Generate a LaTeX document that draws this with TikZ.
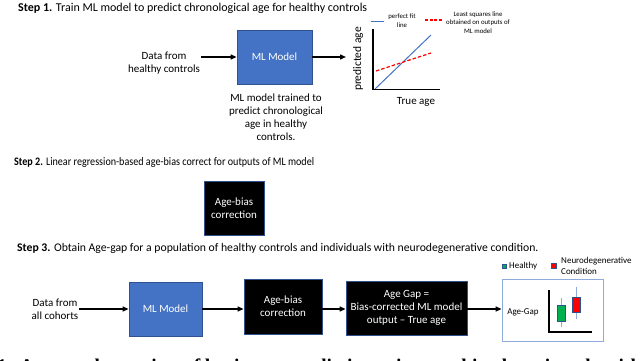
\documentclass[tikz,border=0pt]{standalone}
\usepackage{fontspec}
\setmainfont{Carlito}
\newfontfamily\capfont{Liberation Serif}
\usetikzlibrary{arrows.meta}
\definecolor{mlblue}{HTML}{4472C4}
\definecolor{mlborder}{HTML}{2F528F}
\definecolor{lightb}{HTML}{8FAADC}
\definecolor{hgreen}{HTML}{00B050}
\definecolor{nred}{HTML}{FF0000}
\begin{document}
\begin{tikzpicture}[x=1pt,y=-1pt,
  arr/.style={-{Triangle[length=6pt,width=5pt]}, line width=1.4pt},
  txt/.style={font=\fontsize{11}{13}\selectfont, align=center, inner sep=1pt},
  steptxt/.style={anchor=west, inner sep=0pt},
  mlbox/.style={draw=mlborder, fill=mlblue, line width=0.8pt, text=white, font=\fontsize{11}{13}\selectfont, inner sep=0pt, align=center},
  blkbox/.style={draw=mlborder, fill=black, line width=0.8pt, text=white, font=\fontsize{11}{13}\selectfont, inner sep=0pt, align=center},
  smalltxt/.style={font=\fontsize{6.8}{8.5}\selectfont, align=center, inner sep=0pt},
  whisk/.style={draw=lightb, line width=0.9pt},
  candle/.style={draw=mlborder, line width=0.6pt}]
\useasboundingbox (0,0) rectangle (640,361);
\clip (0,0) rectangle (640,361);

% ---------- Step 1 ----------
\node[steptxt, font=\fontsize{12}{14}\selectfont] (s1) at (18,8) {\textbf{Step 1.} Train ML model to predict chronological age for healthy controls};
\node[txt] (d1) at (164,63.5) {Data from\\healthy controls};
\node[mlbox, minimum width=75pt, minimum height=54pt] (ml1) at (274.5,57) {ML Model};
\node[txt] (c1) at (276,117.5) {ML model trained to\\predict chronological\\age in healthy\\controls.};
\coordinate (plotin) at (346,57);
\draw[arr] (d1.east |- ml1) -- (ml1.west);
\draw[arr] (ml1.east) -- (plotin);

% plot
\draw[mlblue, line width=1pt] (375,89) -- (431,35);
\draw[nred, line width=1.2pt, dash pattern=on 3.5pt off 2pt] (376,71) -- (431,53);
\draw[line width=1.7pt] (373,29) -- (373,89.5) -- (440,89.5);
\node[rotate=90, font=\fontsize{11.5}{13}\selectfont, inner sep=0pt] (ylab) at (358,59) {predicted age};
\node[font=\fontsize{11}{13}\selectfont, inner sep=0pt] (xlab) at (416,102) {True age};
\draw[mlblue, line width=1pt] (371,22) -- (384,22);
\node[smalltxt] (lg1) at (402,20.5) {perfect fit\\line};
\draw[nred, line width=1.2pt, dash pattern=on 3pt off 1.5pt] (425,20) -- (442,20);
\node[smalltxt] (lg2) at (478,22.5) {Least squares line\\obtained on outputs of\\ML model};

% ---------- Step 2 ----------
\node[steptxt, font=\fontsize{11.5}{14}\selectfont, xscale=0.88, anchor=west] (s2) at (14,162) {\textbf{Step 2.} Linear regression-based age-bias correct for outputs of ML model};
\node[blkbox, minimum width=60pt, minimum height=54pt] (ab1) at (234,208) {Age-bias\\correction};

% ---------- Step 3 ----------
\node[steptxt, font=\fontsize{11.7}{14}\selectfont] (s3) at (17,248) {\textbf{Step 3.} Obtain Age-gap for a population of healthy controls and individuals with neurodegenerative condition.};
\node[txt] (d3) at (55,309) {Data from\\all cohorts};
\node[mlbox, minimum width=73pt, minimum height=54pt] (ml3) at (165.5,309) {ML Model};
\node[blkbox, minimum width=78pt, minimum height=55pt] (ab3) at (283,306.5) {Age-bias\\correction};
\node[blkbox, minimum width=121pt, minimum height=54pt] (ag3) at (406.5,308) {Age Gap =\\Bias-corrected ML model\\output -- True age};
\node[draw=lightb, line width=0.8pt, fill=white, minimum width=101pt, minimum height=62pt, inner sep=0pt] (out) at (552.5,310) {};
\draw[arr] (d3.east |- ml3) -- (ml3.west);
\draw[arr] (ml3.east) -- (ab3.west |- ml3);
\draw[arr] (ab3.east |- ml3) -- (ag3.west |- ml3);
\draw[arr] (ag3.east |- ml3) -- (out.west |- ml3);

% inner chart
\node[font=\fontsize{9}{11}\selectfont, inner sep=0pt] (aglab) at (523,312) {Age-Gap};
\draw[line width=1.4pt] (549,290) -- (549,332) -- (592,332);
\draw[whisk] (561,298) -- (561,327);
\draw[candle, fill=hgreen] (557,305) rectangle (565,321);
\draw[whisk] (576,287) -- (576,319);
\draw[candle, fill=nred] (572,297) rectangle (580,312);

% legend
\draw[candle, fill=hgreen] (502,264) rectangle (506.5,268.5);
\node[font=\fontsize{9}{11}\selectfont, anchor=west, inner sep=0pt] (lh) at (509,266) {Healthy};
\draw[candle, fill=nred] (551.5,263.5) rectangle (556,268);
\node[font=\fontsize{9}{11}\selectfont, anchor=west, align=left, inner sep=0pt] (ln) at (561,266) {Neurodegenerative\\Condition};

% ---------- cropped caption (only the tops of its tallest letters show) ----------
\node[font=\capfont\bfseries\fontsize{19.4}{23}\selectfont, anchor=base west, inner sep=0pt] (cap) at (-3,372.5) {1: A general overview of brain age prediction using machine learning algorithms};
\end{tikzpicture}
\end{document}
